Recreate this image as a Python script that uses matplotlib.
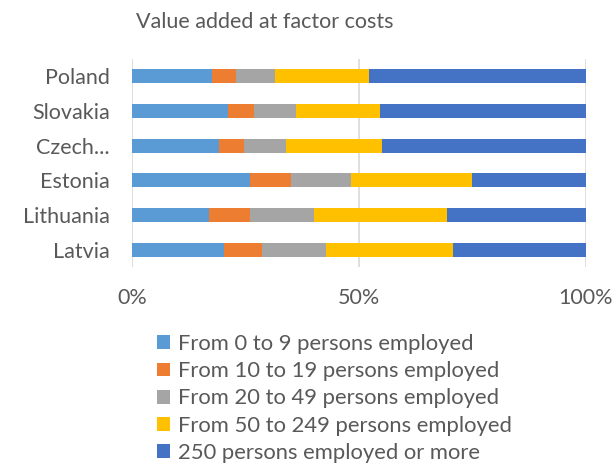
import matplotlib.pyplot as plt

# countries, top to bottom
countries = ["Poland", "Slovakia", "Czech...", "Estonia", "Lithuania", "Latvia"]

# shares in % of value added at factor costs
emp_0_9 = [17.6, 21.1, 19.2, 25.9, 17.0, 20.3]
emp_10_19 = [5.3, 5.7, 5.4, 9.1, 8.9, 8.3]
emp_20_49 = [8.6, 9.3, 9.3, 13.3, 14.1, 14.2]
emp_50_249 = [20.7, 18.5, 21.1, 26.6, 29.4, 27.8]
emp_250 = [47.8, 45.4, 45.0, 25.1, 30.6, 29.4]

series_names = ["From 0 to 9 persons employed", "From 10 to 19 persons employed",
                "From 20 to 49 persons employed", "From 50 to 249 persons employed",
                "250 persons employed or more"]
series = [emp_0_9, emp_10_19, emp_20_49, emp_50_249, emp_250]
colors = ["#5B9BD5", "#ED7D31", "#A5A5A5", "#FFC000", "#4472C4"]

plt.rcParams['font.family'] = ['Lato', 'DejaVu Sans']
txt = "#595959"

fig = plt.figure(figsize=(6.14, 4.70), dpi=100)
ax = fig.add_axes([132 / 614, 1 - 267 / 470, 454 / 614, 208 / 470])

y = list(range(len(countries)))
left = [0] * len(countries)
handles = []
for name, vals, col in zip(series_names, series, colors):
    b = ax.barh(y, vals, left=left, height=0.4, color=col, label=name, zorder=3)
    handles.append(b)
    left = [l + v for l, v in zip(left, vals)]

ax.set_xlim(0, 100)
ax.set_ylim(len(countries) - 0.5, -0.5)
ax.set_xticks([0, 50, 100])
ax.set_xticklabels(["0%", "50%", "100%"])
ax.set_yticks(y)
ax.set_yticklabels(countries)
ax.tick_params(axis='both', length=0, labelsize=15.5, colors=txt)
ax.tick_params(axis='x', pad=15)
ax.tick_params(axis='y', pad=16)
ax.grid(axis='x', color="#D9D9D9", linewidth=1.2, zorder=0)
for s in ax.spines.values():
    s.set_visible(False)

fig.text(265 / 614, 1 - 22 / 470, "Value added at factor costs", ha='center', va='center',
         fontsize=15.5, color=txt)

fig.legend(handles=handles, loc='upper left', bbox_to_anchor=(157 / 614, 1 - 334 / 470),
           frameon=False, fontsize=15.8, labelcolor=txt, handlelength=0.6, handleheight=0.6,
           handletextpad=0.35, labelspacing=0.33, borderaxespad=0, borderpad=0)

fig.savefig("out.png", dpi=100)
